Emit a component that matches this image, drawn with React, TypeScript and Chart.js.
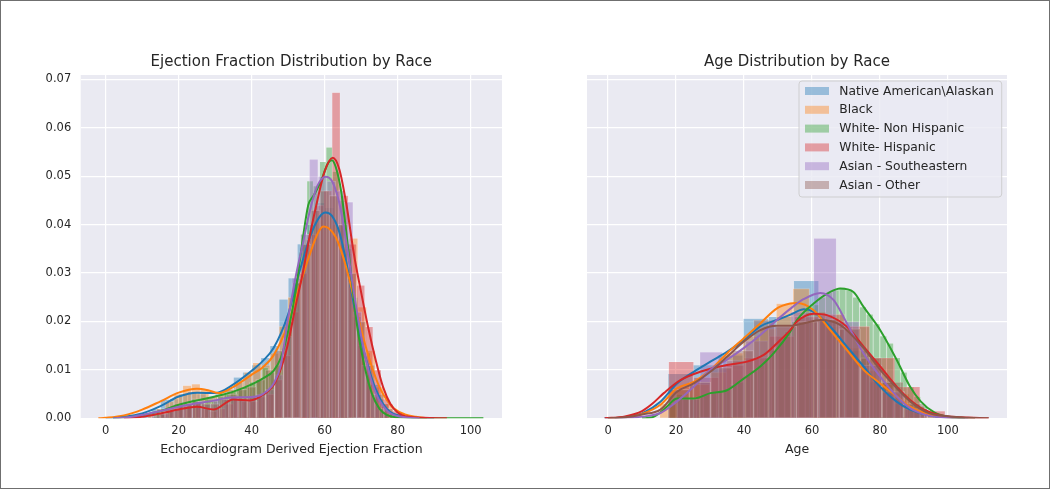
import React, { useEffect, useRef } from "react";
import { Chart, registerables } from "chart.js";

Chart.register(...registerables);

// ---------- labels & styling constants ----------
const RACES = [
  "Native American\\Alaskan",
  "Black",
  "White- Non Hispanic",
  "White- Hispanic",
  "Asian - Southeastern",
  "Asian - Other",
];
const COLORS = ["#1f77b4", "#ff7f0e", "#2ca02c", "#d62728", "#9467bd", "#8c564b"];

const X_TICKS = [0, 20, 40, 60, 80, 100];
const Y_TICKS = [0, 0.01, 0.02, 0.03, 0.04, 0.05, 0.06, 0.07];

// ---------- Ejection fraction: histograms [bin centre, density] ----------
const EF_HIST_NATIVE: [number, number][] = [
  [11.25, 0.001], [13.75, 0.002], [16.25, 0.0039], [18.75, 0.004], [21.25, 0.005], [23.75, 0.0055],
  [26.25, 0.005], [28.75, 0.0045], [31.25, 0.005], [33.75, 0.006], [36.25, 0.0085], [38.75, 0.0095],
  [41.25, 0.011], [43.75, 0.0125], [46.25, 0.015], [48.75, 0.0246], [51.25, 0.029], [53.75, 0.036],
  [56.25, 0.04], [58.75, 0.0445], [61.25, 0.0435], [63.75, 0.04], [66.25, 0.034], [68.75, 0.021],
  [71.25, 0.0135], [73.75, 0.007], [76.25, 0.003], [78.75, 0.001],
];
const EF_HIST_BLACK: [number, number][] = [
  [12.7, 0.001], [15.1, 0.002], [17.5, 0.0035], [19.9, 0.005], [22.3, 0.0068], [24.7, 0.0071],
  [27.1, 0.006], [29.5, 0.0045], [31.9, 0.005], [34.3, 0.006], [36.7, 0.0075], [39.1, 0.0095],
  [41.5, 0.0115], [43.9, 0.011], [46.3, 0.0135], [48.7, 0.019], [51.1, 0.025], [53.5, 0.031],
  [55.9, 0.037], [58.3, 0.041], [60.7, 0.042], [63.1, 0.04], [65.5, 0.036], [67.9, 0.0372],
  [70.3, 0.023], [72.7, 0.014], [75.1, 0.0065], [77.5, 0.003], [79.9, 0.001],
];
const EF_HIST_WHITE_NH: [number, number][] = [
  [14, 0.001], [15.75, 0.001], [17.5, 0.0015], [19.25, 0.002], [21, 0.003], [22.75, 0.003],
  [24.5, 0.004], [26.25, 0.0035], [28, 0.004], [29.75, 0.0035], [31.5, 0.0045], [33.25, 0.005],
  [35, 0.0055], [36.75, 0.006], [38.5, 0.0065], [40.25, 0.0075], [42, 0.008], [43.75, 0.0105],
  [45.5, 0.0095], [47.25, 0.011], [49, 0.014], [50.75, 0.02], [52.5, 0.028], [54.25, 0.038],
  [56, 0.049], [57.75, 0.048], [59.5, 0.053], [61.25, 0.056], [63, 0.051], [64.75, 0.045],
  [66.5, 0.035], [68.25, 0.025], [70, 0.015], [71.75, 0.009], [73.5, 0.005], [75.25, 0.002],
  [77, 0.001], [78.75, 0.0005],
];
const EF_HIST_WHITE_H: [number, number][] = [
  [15.88, 0.001], [18.13, 0.0015], [20.38, 0.002], [22.63, 0.0025], [24.88, 0.003], [27.13, 0.002],
  [29.38, 0.0015], [31.63, 0.002], [33.88, 0.003], [36.13, 0.004], [38.38, 0.0035], [40.63, 0.0035],
  [42.88, 0.0045], [45.13, 0.005], [47.38, 0.008], [49.63, 0.013], [51.88, 0.022], [54.13, 0.03],
  [56.38, 0.038], [58.63, 0.044], [60.88, 0.047], [63.13, 0.0673], [65.38, 0.046], [67.63, 0.036],
  [69.88, 0.0275], [72.13, 0.0189], [74.38, 0.01], [76.63, 0.004], [78.88, 0.0015],
];
const EF_HIST_ASIAN_SE: [number, number][] = [
  [13.8, 0.0005], [16.2, 0.001], [18.6, 0.002], [21, 0.0025], [23.4, 0.003], [25.8, 0.0035],
  [28.2, 0.003], [30.6, 0.004], [33, 0.004], [35.4, 0.0045], [37.8, 0.004], [40.2, 0.0045],
  [42.6, 0.005], [45, 0.006], [47.4, 0.009], [49.8, 0.017], [52.2, 0.029], [54.6, 0.038],
  [57, 0.0535], [59.4, 0.05], [61.8, 0.049], [64.2, 0.047], [66.6, 0.0447], [69, 0.022],
  [71.4, 0.011], [73.8, 0.005], [76.2, 0.002],
];
const EF_HIST_ASIAN_O: [number, number][] = [
  [15, 0.001], [17.5, 0.002], [20, 0.003], [22.5, 0.003], [25, 0.0035], [27.5, 0.003],
  [30, 0.003], [32.5, 0.004], [35, 0.005], [37.5, 0.006], [40, 0.0065], [42.5, 0.008],
  [45, 0.01], [47.5, 0.014], [50, 0.02], [52.5, 0.028], [55, 0.036], [57.5, 0.043],
  [60, 0.047], [62.5, 0.046], [65, 0.04], [67.5, 0.03], [70, 0.02], [72.5, 0.011],
  [75, 0.005], [77.5, 0.002], [80, 0.001],
];

// ---------- Ejection fraction: KDE curves [x, density] ----------
const EF_KDE_NATIVE: [number, number][] = [
  [0, 0], [5, 0.0003], [10, 0.001], [15, 0.0025], [20, 0.0045], [25, 0.0053], [30, 0.0052],
  [35, 0.007], [40, 0.0098], [43, 0.0118], [46, 0.0145], [50, 0.0215], [53, 0.03], [56, 0.0375],
  [58.5, 0.0415], [60.3, 0.0425], [62, 0.0418], [64, 0.0385], [66, 0.032], [68, 0.0235],
  [70, 0.016], [72, 0.0105], [74, 0.006], [76, 0.003], [78, 0.0013], [81, 0.0004], [85, 0.0001], [90, 0],
];
const EF_KDE_BLACK: [number, number][] = [
  [-2, 0], [0, 0.0001], [5, 0.0006], [10, 0.0018], [15, 0.0035], [20, 0.0053], [25, 0.0061],
  [28, 0.0058], [31, 0.0052], [35, 0.0065], [40, 0.009], [43, 0.0105], [46, 0.013], [50, 0.0195],
  [53, 0.027], [56, 0.034], [58, 0.038], [59.6, 0.0396], [61, 0.0393], [63, 0.0375], [65, 0.0335],
  [67, 0.028], [69, 0.0215], [71, 0.0155], [73, 0.0105], [75, 0.0065], [77, 0.0038], [79, 0.002],
  [82, 0.0008], [85, 0.0003], [88, 0],
];
const EF_KDE_WHITE_NH: [number, number][] = [
  [2, 0], [6, 0.0002], [10, 0.0006], [15, 0.0015], [20, 0.0028], [25, 0.0037], [30, 0.0045],
  [35, 0.0055], [40, 0.007], [43, 0.0082], [46, 0.0098], [48, 0.0125], [50, 0.018], [52, 0.026],
  [54, 0.037], [55.5, 0.044], [57, 0.046], [59, 0.049], [61, 0.0528], [62, 0.0533], [63, 0.052],
  [64.5, 0.047], [66, 0.038], [67.5, 0.028], [69, 0.0185], [71, 0.0105], [73, 0.005], [75, 0.002],
  [77, 0.0007], [80, 0.0002], [85, 0.00005], [95, 0], [103.5, 0],
];
const EF_KDE_WHITE_H: [number, number][] = [
  [5, 0], [10, 0.0003], [15, 0.001], [20, 0.0018], [25, 0.0024], [29.5, 0.0018], [35, 0.0039],
  [39.5, 0.0037], [43, 0.0048], [46.5, 0.0075], [49.5, 0.014], [52, 0.023], [54, 0.03], [56, 0.038],
  [58, 0.045], [60, 0.051], [62.2, 0.0538], [64, 0.0515], [66, 0.044], [68, 0.034], [70, 0.026],
  [72, 0.0185], [74, 0.012], [76, 0.0065], [78, 0.003], [80, 0.0012], [83, 0.0003], [87, 0.0001], [93.5, 0],
];
const EF_KDE_ASIAN_SE: [number, number][] = [
  [2, 0], [6, 0.0002], [10, 0.0007], [15, 0.0015], [20, 0.0024], [25, 0.0031], [30, 0.0037],
  [34, 0.0043], [40, 0.0044], [43, 0.005], [46, 0.0072], [48, 0.011], [49.6, 0.0189], [52, 0.029],
  [54, 0.036], [56, 0.043], [58, 0.048], [60.3, 0.0499], [62, 0.049], [64, 0.0445], [66, 0.036],
  [68, 0.026], [70, 0.017], [72, 0.01], [74, 0.0052], [76, 0.0025], [78, 0.001], [81, 0.0003], [86, 0],
];

// ---------- Age: histograms [bin centre, density] ----------
const AGE_HIST_NATIVE: [number, number][] = [
  [21.3, 0.0092], [28.7, 0.011], [36.1, 0.013], [43.5, 0.0206], [50.9, 0.021], [58.3, 0.0284],
  [65.7, 0.02], [73.1, 0.014], [80.5, 0.0075], [87.9, 0.003],
];
const AGE_HIST_BLACK: [number, number][] = [
  [17.65, 0.003], [22.55, 0.0065], [27.45, 0.007], [32.35, 0.0095], [37.25, 0.0135], [42.15, 0.017],
  [47.05, 0.0185], [51.95, 0.0237], [56.85, 0.0268], [61.75, 0.022], [66.65, 0.019], [71.55, 0.0145],
  [76.45, 0.0098], [81.35, 0.007], [86.25, 0.005], [91.15, 0.002],
];
const AGE_HIST_WHITE_NH: [number, number][] = [
  [19, 0.003], [21, 0.005], [23, 0.004], [25, 0.004], [27, 0.0045], [29, 0.005], [31, 0.0055],
  [33, 0.0055], [35, 0.006], [37, 0.007], [39, 0.0075], [41, 0.009], [43, 0.01], [45, 0.011],
  [47, 0.0125], [49, 0.014], [51, 0.016], [53, 0.018], [55, 0.02], [57, 0.021], [59, 0.023],
  [61, 0.0235], [63, 0.025], [65, 0.026], [67, 0.0265], [69, 0.027], [71, 0.0265], [73, 0.025],
  [75, 0.023], [77, 0.0215], [79, 0.0195], [81, 0.017], [83, 0.0155], [85, 0.0125], [87, 0.0095],
  [89, 0.0065], [91, 0.0045], [93, 0.0025], [95, 0.0012], [97, 0.0005],
];
const AGE_HIST_WHITE_H: [number, number][] = [
  [21.5, 0.0117], [28.9, 0.0085], [36.3, 0.011], [43.7, 0.0125], [51.1, 0.017], [58.5, 0.021],
  [65.9, 0.0215], [73.3, 0.019], [80.7, 0.0125], [88.1, 0.0065], [95.5, 0.0015],
];
const AGE_HIST_ASIAN_SE: [number, number][] = [
  [23.65, 0.004], [30.35, 0.0137], [37.05, 0.012], [43.75, 0.016], [50.45, 0.019], [57.15, 0.022],
  [63.85, 0.0372], [70.55, 0.02], [77.25, 0.011], [83.95, 0.0055], [90.65, 0.002],
];
const AGE_HIST_ASIAN_O: [number, number][] = [
  [20.75, 0.006], [27.05, 0.0075], [33.35, 0.0105], [39.65, 0.014], [45.95, 0.0203], [52.25, 0.019],
  [58.55, 0.02], [64.85, 0.0205], [71.15, 0.0185], [77.45, 0.0125], [83.75, 0.0075], [90.05, 0.003],
];

// ---------- Age: KDE curves [x, density] ----------
const AGE_KDE_NATIVE: [number, number][] = [
  [-1, 0], [5, 0.0002], [10, 0.001], [15.4, 0.0034], [20.3, 0.0072], [25.2, 0.0096], [30.1, 0.0117],
  [35, 0.0137], [39.9, 0.0161], [44.8, 0.019], [49.7, 0.0203], [54, 0.0215], [57.6, 0.0225],
  [60.5, 0.022], [65.4, 0.0189], [70.3, 0.0148], [75.2, 0.0107], [80.1, 0.0065], [85, 0.0034],
  [88.9, 0.0018], [95, 0.0005], [102, 0.0001], [108, 0],
];
const AGE_KDE_BLACK: [number, number][] = [
  [0, 0], [5, 0.0002], [10, 0.0009], [15.4, 0.0028], [20.3, 0.0062], [25.2, 0.0075], [30.1, 0.01],
  [35, 0.0134], [39.9, 0.0165], [44.8, 0.0196], [49.7, 0.0227], [53.6, 0.0237], [55.6, 0.0238],
  [60.5, 0.0223], [65.4, 0.0182], [70.3, 0.0141], [75.2, 0.01], [80.1, 0.0072], [85, 0.0045],
  [88.9, 0.0024], [95, 0.0007], [102, 0.0001], [108, 0],
];
const AGE_KDE_WHITE_NH: [number, number][] = [
  [10, 0], [13, 0.0002], [15, 0.001], [17.3, 0.0024], [20.3, 0.0041], [25.2, 0.0041], [30.1, 0.0052],
  [35, 0.0058], [39.9, 0.0082], [44.8, 0.0107], [48.7, 0.0134], [53.6, 0.0179], [55.6, 0.0203],
  [60.5, 0.0237], [65.4, 0.0261], [68.3, 0.0268], [72.2, 0.0261], [75.2, 0.023], [80.1, 0.0182],
  [85, 0.012], [88.9, 0.0065], [92, 0.0035], [96, 0.0012], [100, 0.0003], [105, 0],
];
const AGE_KDE_WHITE_H: [number, number][] = [
  [-1, 0], [5, 0.0004], [10, 0.0015], [13, 0.003], [16.4, 0.0052], [21.3, 0.0079], [27.1, 0.0096],
  [35, 0.011], [40.9, 0.0117], [45.8, 0.0131], [49.7, 0.0155], [53.6, 0.0182], [55.6, 0.02],
  [60.5, 0.0216], [64.4, 0.0213], [70.3, 0.0189], [75.2, 0.0148], [80.1, 0.0107], [85, 0.0065],
  [88.9, 0.0038], [93, 0.0018], [98, 0.0006], [104, 0.0002], [112, 0],
];
const AGE_KDE_ASIAN_SE: [number, number][] = [
  [2, 0], [8, 0.0002], [12, 0.0005], [15.4, 0.0011], [20.3, 0.0035], [25.2, 0.0065], [30.1, 0.01],
  [35, 0.0121], [39.9, 0.0145], [44.8, 0.0172], [49.7, 0.0203], [53.6, 0.0226], [57.5, 0.0246],
  [62.5, 0.0259], [66.4, 0.0244], [70.3, 0.0196], [75.2, 0.0134], [80.1, 0.0086], [85, 0.0045],
  [88.9, 0.0021], [94, 0.0006], [100, 0.0001], [106, 0],
];
const AGE_KDE_ASIAN_O: [number, number][] = [
  [0, 0], [5, 0.0002], [10, 0.0008], [15.4, 0.0018], [20.3, 0.0055], [25.2, 0.0072], [30.1, 0.0096],
  [35, 0.0127], [39.9, 0.0158], [44.8, 0.0182], [49.7, 0.0191], [53.6, 0.0191], [58, 0.0197],
  [62.5, 0.0203], [68.3, 0.0193], [75.2, 0.0145], [80.1, 0.01], [85, 0.0062], [88.9, 0.0035],
  [94, 0.0012], [100, 0.0004], [106, 0.0001], [112, 0],
];

const EF_HISTS = [EF_HIST_NATIVE, EF_HIST_BLACK, EF_HIST_WHITE_NH, EF_HIST_WHITE_H, EF_HIST_ASIAN_SE, EF_HIST_ASIAN_O];
const EF_KDES = [EF_KDE_NATIVE, EF_KDE_BLACK, EF_KDE_WHITE_NH, EF_KDE_WHITE_H, EF_KDE_ASIAN_SE, null];
const AGE_HISTS = [AGE_HIST_NATIVE, AGE_HIST_BLACK, AGE_HIST_WHITE_NH, AGE_HIST_WHITE_H, AGE_HIST_ASIAN_SE, AGE_HIST_ASIAN_O];
const AGE_KDES = [AGE_KDE_NATIVE, AGE_KDE_BLACK, AGE_KDE_WHITE_NH, AGE_KDE_WHITE_H, AGE_KDE_ASIAN_SE, AGE_KDE_ASIAN_O];

// ---------- helpers ----------
const FONT = "DejaVu Sans";
const TEXT = "#262626";
const AX_BG = "#EAEAF2";

function rgba(hex: string, a: number) {
  const n = parseInt(hex.slice(1), 16);
  return `rgba(${(n >> 16) & 255},${(n >> 8) & 255},${n & 255},${a})`;
}

// Chart.js paints higher `order` first, so the first race gets the highest
// order (painted at the bottom) and the last race ends up on top, as in the original.
function buildDatasets(hists: ([number, number][] | null)[], kdes: ([number, number][] | null)[]) {
  const ds: any[] = [];
  const n = RACES.length;
  hists.forEach((h, i) => {
    if (!h) return;
    ds.push({
      type: "bar",
      label: RACES[i],
      data: h.map(([x, y]) => ({ x, y })),
      backgroundColor: rgba(COLORS[i], 0.4),
      borderColor: "rgba(255,255,255,0.3)",
      borderWidth: 0.6,
      barThickness: "flex",
      barPercentage: 1,
      categoryPercentage: 1,
      stack: "overlap",
      order: 100 + (n - i),
    });
  });
  kdes.forEach((k, i) => {
    if (!k) return;
    ds.push({
      type: "line",
      label: RACES[i] + " kde",
      data: k.map(([x, y]) => ({ x, y })),
      borderColor: COLORS[i],
      borderWidth: 2,
      pointRadius: 0,
      fill: false,
      cubicInterpolationMode: "monotone",
      order: n - i,
    });
  });
  return ds;
}

const bgPlugin = {
  id: "axBg",
  beforeDraw(chart: any) {
    const { ctx, chartArea: a } = chart;
    ctx.save();
    ctx.fillStyle = AX_BG;
    ctx.fillRect(a.left, a.top, a.right - a.left, a.bottom - a.top);
    ctx.restore();
  },
};

const titlePlugin = {
  id: "axTitle",
  afterDraw(chart: any, _args: any, opts: any) {
    if (!opts || !opts.text) return;
    const { ctx, chartArea: a } = chart;
    ctx.save();
    ctx.fillStyle = TEXT;
    ctx.font = `15px "${FONT}"`;
    ctx.textAlign = "center";
    ctx.textBaseline = "middle";
    ctx.fillText(opts.text, (a.left + a.right) / 2, opts.y);
    ctx.restore();
  },
};

function roundRectPath(ctx: CanvasRenderingContext2D, x: number, y: number, w: number, h: number, r: number) {
  ctx.beginPath();
  ctx.moveTo(x + r, y);
  ctx.arcTo(x + w, y, x + w, y + h, r);
  ctx.arcTo(x + w, y + h, x, y + h, r);
  ctx.arcTo(x, y + h, x, y, r);
  ctx.arcTo(x, y, x + w, y, r);
  ctx.closePath();
}

const legendPlugin = {
  id: "boxLegend",
  afterDraw(chart: any, _args: any, opts: any) {
    if (!opts || !opts.show) return;
    const { ctx, chartArea: a } = chart;
    const w = 202.7;
    const h = 116;
    const x = a.right - 5.3 - w;
    const y = a.top + 6;
    ctx.save();
    roundRectPath(ctx, x, y, w, h, 3);
    ctx.fillStyle = "rgba(234,234,242,0.8)";
    ctx.fill();
    ctx.strokeStyle = "rgba(204,204,204,0.9)";
    ctx.lineWidth = 1;
    ctx.stroke();
    ctx.font = `12.3px "${FONT}"`;
    ctx.textBaseline = "middle";
    ctx.textAlign = "left";
    RACES.forEach((r, i) => {
      const cy = y + 10 + i * 18.8;
      ctx.fillStyle = rgba(COLORS[i], 0.4);
      ctx.fillRect(x + 6, cy - 4, 24, 8);
      ctx.fillStyle = TEXT;
      ctx.fillText(r, x + 40.3, cy + 0.5);
    });
    ctx.restore();
  },
};

function makeConfig(opts: {
  hists: any[];
  kdes: any[];
  xMin: number;
  xMax: number;
  xTitle: string;
  title: string;
  yWidth: number;
  yLabels: boolean;
  padRight: number;
  legend: boolean;
}) {
  return {
    type: "bar",
    data: { datasets: buildDatasets(opts.hists, opts.kdes) },
    plugins: [bgPlugin, titlePlugin, legendPlugin],
    options: {
      animation: false,
      responsive: false,
      events: [],
      layout: { padding: { left: 0, right: opts.padRight, top: 75, bottom: 0 } },
      plugins: {
        legend: { display: false },
        tooltip: { enabled: false },
        title: { display: false },
        axTitle: { text: opts.title, y: 61.7 },
        boxLegend: { show: opts.legend },
      },
      scales: {
        x: {
          type: "linear",
          min: opts.xMin,
          max: opts.xMax,
          offset: false,
          stacked: true,
          grid: { color: "#ffffff", lineWidth: 1.2, drawTicks: false, offset: false },
          border: { display: false },
          ticks: {
            padding: 6,
            color: TEXT,
            font: { family: FONT, size: 11.5 },
            callback: (v: any) => String(v),
          },
          afterBuildTicks: (s: any) => {
            s.ticks = X_TICKS.map((v) => ({ value: v }));
          },
          afterFit: (s: any) => {
            s.height = 70.7;
          },
          title: {
            display: true,
            text: opts.xTitle,
            color: TEXT,
            font: { family: FONT, size: 12.5 },
            padding: { top: 2, bottom: 32.2 },
          },
        },
        y: {
          type: "linear",
          min: 0,
          max: 0.0709,
          stacked: false,
          grid: { color: "#ffffff", lineWidth: 1.2, drawTicks: false },
          border: { display: false },
          ticks: {
            display: opts.yLabels,
            padding: 9.5,
            color: TEXT,
            font: { family: FONT, size: 11.5 },
            callback: (v: any) => Number(v).toFixed(2),
          },
          afterBuildTicks: (s: any) => {
            s.ticks = Y_TICKS.map((v) => ({ value: v }));
          },
          afterFit: (s: any) => {
            s.width = opts.yWidth;
          },
        },
      },
    },
  };
}

function Panel(props: { left: number; config: any }) {
  const ref = useRef<HTMLCanvasElement | null>(null);
  useEffect(() => {
    if (!ref.current) return;
    const chart = new Chart(ref.current, props.config);
    return () => chart.destroy();
  }, []);
  return (
    <canvas
      ref={ref}
      width={525}
      height={489}
      style={{ position: "absolute", left: props.left, top: 0, width: 525, height: 489 }}
    />
  );
}

export default function App() {
  const efConfig = makeConfig({
    hists: EF_HISTS,
    kdes: EF_KDES,
    xMin: -6.85,
    xMax: 108.6,
    xTitle: "Echocardiogram Derived Ejection Fraction",
    title: "Ejection Fraction Distribution by Race",
    yWidth: 80.7,
    yLabels: true,
    padRight: 23,
    legend: false,
  });
  const ageConfig = makeConfig({
    hists: AGE_HISTS,
    kdes: AGE_KDES,
    xMin: -6.2,
    xMax: 117.4,
    xTitle: "Age",
    title: "Age Distribution by Race",
    yWidth: 62,
    yLabels: false,
    padRight: 43,
    legend: true,
  });
  return (
    <div
      style={{
        position: "absolute",
        left: 0,
        top: 0,
        width: 1050,
        height: 489,
        background: "#ffffff",
        overflow: "hidden",
      }}
    >
      <Panel left={0} config={efConfig} />
      <Panel left={525} config={ageConfig} />
      <div
        style={{
          position: "absolute",
          left: 0,
          top: 0,
          width: 1050,
          height: 489,
          boxSizing: "border-box",
          border: "1px solid #6f6f6f",
          pointerEvents: "none",
        }}
      />
    </div>
  );
}
